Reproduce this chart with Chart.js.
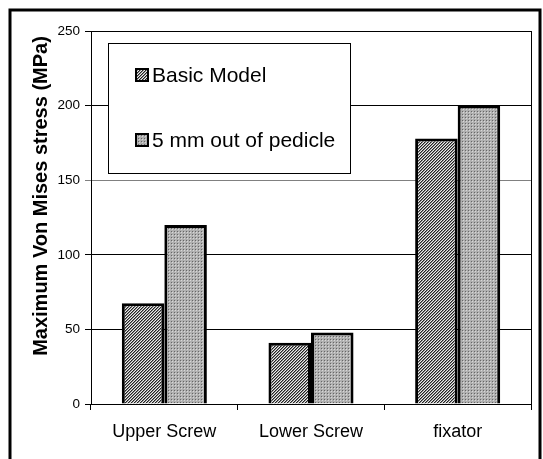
<!DOCTYPE html>
<html>
<head>
<meta charset="utf-8">
<script src="https://cdn.jsdelivr.net/npm/chart.js@4"></script>
<style>
  html, body { margin: 0; padding: 0; background: #fff; }
  #wrap { width: 543px; height: 459px; }
</style>
</head>
<body>
<div id="wrap"><canvas id="myChart" width="543" height="459"></canvas></div>
<script>
var categories = ['Upper Screw', 'Lower Screw', 'fixator'];
var basicModel = [67.5, 41, 178];
var outOfPedicle = [120, 48, 200];
var seriesNames = ['Basic Model', '5 mm out of pedicle'];
var yTicks = [0, 50, 100, 150, 200, 250];
var yTitle = 'Maximum Von Mises stress (MPa)';

var FONT = '"Liberation Sans", Arial, sans-serif';

// hatch patterns like the excel fills
function hatch() {
  let c = document.createElement('canvas');
  c.width = 3; c.height = 3;
  let g = c.getContext('2d');
  g.fillStyle = '#ececec';
  g.fillRect(0, 0, 3, 3);
  g.fillStyle = '#222';
  for (let i = 0; i < 3; i++) {
    g.fillRect(i, 2 - i, 1, 1);
  }
  g.fillStyle = '#888';
  for (let i = 0; i < 3; i++) {
    g.fillRect((i + 1) % 3, 2 - i, 1, 1);
  }
  return g.createPattern(c, 'repeat');
}
function dots() {
  let c = document.createElement('canvas');
  c.width = 3; c.height = 3;
  let g = c.getContext('2d');
  g.fillStyle = '#b0b0b0';
  g.fillRect(0, 0, 3, 3);
  g.fillStyle = '#666';
  g.fillRect(0, 0, 1, 1);
  g.fillStyle = '#d8d8d8';
  g.fillRect(1, 1, 1, 1);
  return g.createPattern(c, 'repeat');
}

const ctx = document.getElementById('myChart').getContext('2d');
const fills = [hatch(), dots()];

const frame = {
  id: 'frame',
  beforeDraw(chart) {
    const c = chart.ctx;
    c.save();
    c.fillStyle = '#fff';
    c.fillRect(0, 0, chart.width, chart.height);
    c.restore();
  },
  afterDraw(chart) {
    const c = chart.ctx;
    const a = chart.chartArea;
    c.save();
    // right edge of plot
    c.strokeStyle = '#000';
    c.lineWidth = 1;
    c.beginPath();
    c.moveTo(a.right + 0.5, a.top);
    c.lineTo(a.right + 0.5, a.bottom + 6);
    c.stroke();
    // outer border
    c.lineWidth = 3;
    c.strokeRect(10, 10, 530, 470);
    // y title, sits a bit above the middle like in excel
    c.save();
    c.translate(41, 196);
    c.rotate(-Math.PI / 2);
    c.fillStyle = '#000';
    c.font = 'bold 20px ' + FONT;
    c.textAlign = 'center';
    c.textBaseline = 'middle';
    c.fillText(yTitle, 0, 0);
    c.restore();
    // legend box
    c.fillStyle = '#fff';
    c.lineWidth = 1;
    c.fillRect(108, 43, 242, 130);
    c.strokeRect(108.5, 43.5, 242, 130);
    const ys = [75, 140];
    chart.data.datasets.forEach(function (ds, i) {
      c.fillStyle = fills[i];
      c.fillRect(136, ys[i] - 6, 12, 12);
      c.lineWidth = 2;
      c.strokeRect(136, ys[i] - 6, 12, 12);
      c.fillStyle = '#000';
      c.font = '21px ' + FONT;
      c.textBaseline = 'middle';
      c.fillText(ds.label, 152, ys[i] + 1);
    });
    c.restore();
  }
};

new Chart(ctx, {
  type: 'bar',
  data: {
    labels: categories,
    datasets: [{
      label: seriesNames[0],
      data: basicModel,
      backgroundColor: fills[0],
      borderColor: '#000',
      borderWidth: 3
    }, {
      label: seriesNames[1],
      data: outOfPedicle,
      backgroundColor: fills[1],
      borderColor: '#000',
      borderWidth: 3
    }]
  },
  options: {
    responsive: false,
    animation: false,
    events: [],
    categoryPercentage: 0.58,
    barPercentage: 1.0,
    layout: { padding: { top: 31, right: 12, left: 12, bottom: 0 } },
    plugins: {
      legend: { display: false },
      tooltip: { enabled: false }
    },
    scales: {
      x: {
        grid: { drawOnChartArea: false, color: '#000', tickLength: 6, offset: true },
        border: { color: '#000', width: 1 },
        ticks: {
          color: '#000',
          padding: 11,
          font: { family: FONT, size: 18 }
        },
        afterFit(s) { s.height = 55; }
      },
      y: {
        min: 0,
        max: 250,
        afterBuildTicks(s) { s.ticks = yTicks.map(function (v) { return { value: v }; }); },
        grid: {
          color(c) { return c.tick && c.tick.value === 150 ? '#808080' : '#000'; },
          tickLength: 6
        },
        border: { color: '#000', width: 1 },
        ticks: {
          color: '#000',
          padding: 5,
          font: { family: FONT, size: 13.5 }
        },
        afterFit(s) { s.width = 79; }
      }
    }
  },
  plugins: [frame]
});
</script>
</body>
</html>
